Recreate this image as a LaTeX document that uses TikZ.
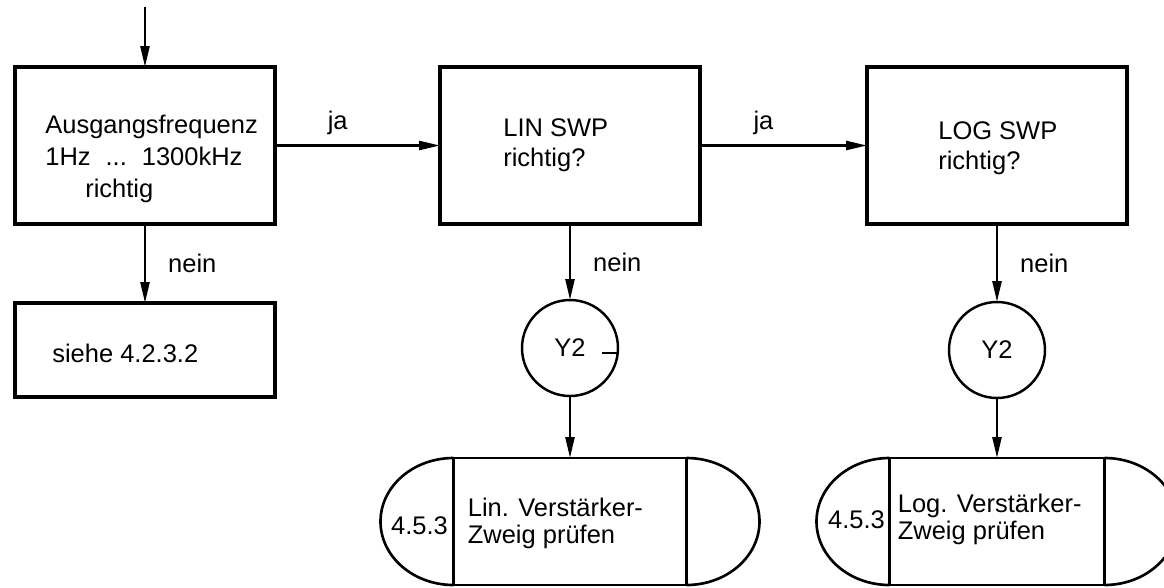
\documentclass[tikz,border=0pt]{standalone}
\usepackage{fontspec}
\setmainfont{Liberation Sans}
\usetikzlibrary{positioning}
\usetikzlibrary{arrows.meta}

\begin{document}
\begin{tikzpicture}[
    box/.style={draw, line width=2pt, minimum width=5.2cm, minimum height=3.14cm, outer sep=0pt},
    ring/.style={draw, circle, line width=1.4pt, minimum size=1.92cm, inner sep=0pt, outer sep=0pt, font=\fontsize{14.5}{17}\selectfont},
    term/.style={draw, line width=1.5pt, minimum height=2.54cm, outer sep=0pt},
    txt/.style={anchor=north west, align=left, inner sep=0pt, font=\fontsize{14.5}{18}\selectfont},
    lbl/.style={inner sep=0pt, font=\fontsize{14.5}{17}\selectfont},
    arr/.style={line width=1.4pt, -{Triangle[length=0.42cm, width=0.18cm]}}
  ]
    \useasboundingbox (0,0) rectangle (23.28,-11.74);

    \node[box] (freq) at (2.9,-2.91) {};
    \node[box, right=3.3cm of freq] (lin) {};
    \node[box, right=3.34cm of lin] (log) {};
    \node[box, minimum height=1.88cm, below=1.58cm of freq] (siehe) {};
    \coordinate[above=1.2cm of freq] (start);

    % Y2
    \node[ring, below=1.52cm of lin] (y2lin) {Y2};
    \node[ring, below=1.56cm of log] (y2log) {Y2};
    \draw[line width=1.3pt] ([yshift=-0.1cm]y2lin.east) -- ++(-0.32cm,0);

    % 4.5.3
    \node[term, minimum width=4.66cm, below=1.24cm of y2lin] (linzweig) {};
    \node[term, minimum width=4.3cm, below=1.2cm of y2log] (logzweig) {};
    \draw[line width=1.5pt] (linzweig.north west) arc[start angle=90, end angle=270, x radius=1.46cm, y radius=1.27cm];
    \draw[line width=1.5pt] (linzweig.north east) arc[start angle=90, end angle=-90, x radius=1.46cm, y radius=1.27cm];
    \draw[line width=1.5pt] (logzweig.north west) arc[start angle=90, end angle=270, x radius=1.46cm, y radius=1.27cm];
    \draw[line width=1.5pt] (logzweig.north east) arc[start angle=90, end angle=-90, x radius=1.46cm, y radius=1.27cm];
    \node[lbl] (linnr) at ([xshift=-0.68cm, yshift=-0.08cm]linzweig.west) {4.5.3};
    \node[lbl] (lognr) at ([xshift=-0.66cm, yshift=0.03cm]logzweig.west) {4.5.3};

    % texts
    \node[txt] (freqtxt) at ([xshift=0.6cm, yshift=-0.96cm]freq.north west)
        {Ausgangsfrequenz\\1Hz\hspace{0.3cm}...\hspace{0.3cm}1300kHz\\\hspace*{0.8cm}richtig};
    \node[txt, font=\fontsize{14.5}{17}\selectfont] (lintxt) at ([xshift=1.26cm, yshift=-1.02cm]lin.north west) {LIN SWP\\richtig?};
    \node[txt, font=\fontsize{14.5}{17}\selectfont] (logtxt) at ([xshift=1.42cm, yshift=-1.08cm]log.north west) {LOG SWP\\richtig?};
    \node[txt, anchor=west] (siehetxt) at ([xshift=0.74cm, yshift=-0.06cm]siehe.west) {siehe 4.2.3.2};
    \node[txt, font=\fontsize{14.5}{15}\selectfont] (linzweigtxt) at ([xshift=0.28cm, yshift=-0.8cm]linzweig.north west) {Lin. Verstärker-\\Zweig prüfen};
    \node[txt, font=\fontsize{14.5}{15}\selectfont] (logzweigtxt) at ([xshift=0.16cm, yshift=-0.72cm]logzweig.north west) {Log. Verstärker-\\Zweig prüfen};

    \draw[arr] (start) -- (freq);
    \draw[arr] (freq) -- node[lbl, above=0.18cm, pos=0.38] (ja1) {ja} (lin);
    \draw[arr] (lin) -- node[lbl, above=0.18cm, pos=0.38] (ja2) {ja} (log);
    \draw[arr] (freq) -- node[lbl, right=0.44cm] (nein1) {nein} (siehe);
    \draw[arr] (lin) -- node[lbl, right=0.44cm] (nein2) {nein} (y2lin);
    \draw[arr] (log) -- node[lbl, right=0.44cm] (nein3) {nein} (y2log);
    \draw[arr] (y2lin) -- (linzweig);
    \draw[arr] (y2log) -- (logzweig);
\end{tikzpicture}
\end{document}
